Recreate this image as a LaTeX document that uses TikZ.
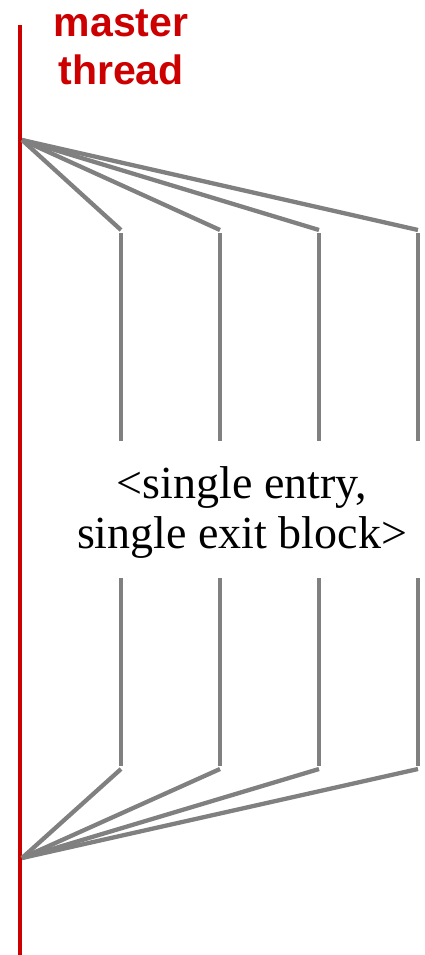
\documentclass[tikz,border=0pt]{standalone}
\usepackage{fontspec}
\setmainfont{Liberation Serif}
\newfontfamily\labelfont{Liberation Sans}
\usetikzlibrary{positioning}
\definecolor{masterred}{HTML}{CC0000}
\definecolor{threadgray}{HTML}{808080}
\tikzset{
  master/.style={masterred,line width=4.5pt},
  thrd/.style={threadgray,line width=4.3pt},
  title/.style={font=\labelfont\bfseries\fontsize{41}{48}\selectfont,text=masterred,align=center,inner sep=0pt},
  blocktext/.style={font=\fontsize{46}{50}\selectfont,align=center,inner sep=0pt}
}
\begin{document}
\begin{tikzpicture}[x=1pt,y=-1pt]
\useasboundingbox (0,0) rectangle (425,955);

% master thread
\coordinate (top) at (20,25);
\coordinate (bot) at (20,955);
\draw[master] (top) -- (bot);
\node[title,anchor=base] (lbl) at (121,85) {master\\thread};

% fork and join points
\coordinate (fork) at (22,140);
\coordinate (join) at (22,858);

% team threads: slanted part, then straight part broken by the block text
\foreach \i/\x in {1/121,2/220,3/319,4/418}{
  \coordinate (f\i) at (\x,230);
  \coordinate (a\i) at (\x,233);
  \coordinate (b\i) at (\x,441);
  \coordinate (c\i) at (\x,578);
  \coordinate (d\i) at (\x,766);
  \coordinate (j\i) at (\x,769);
  \draw[thrd] (fork) -- (f\i);
  \draw[thrd] (a\i) -- (b\i);
  \draw[thrd] (c\i) -- (d\i);
  \draw[thrd] (j\i) -- (join);
}

\node[blocktext,anchor=base] (blk) at (242,548) {<single entry,\\single exit block>};
\end{tikzpicture}
\end{document}
